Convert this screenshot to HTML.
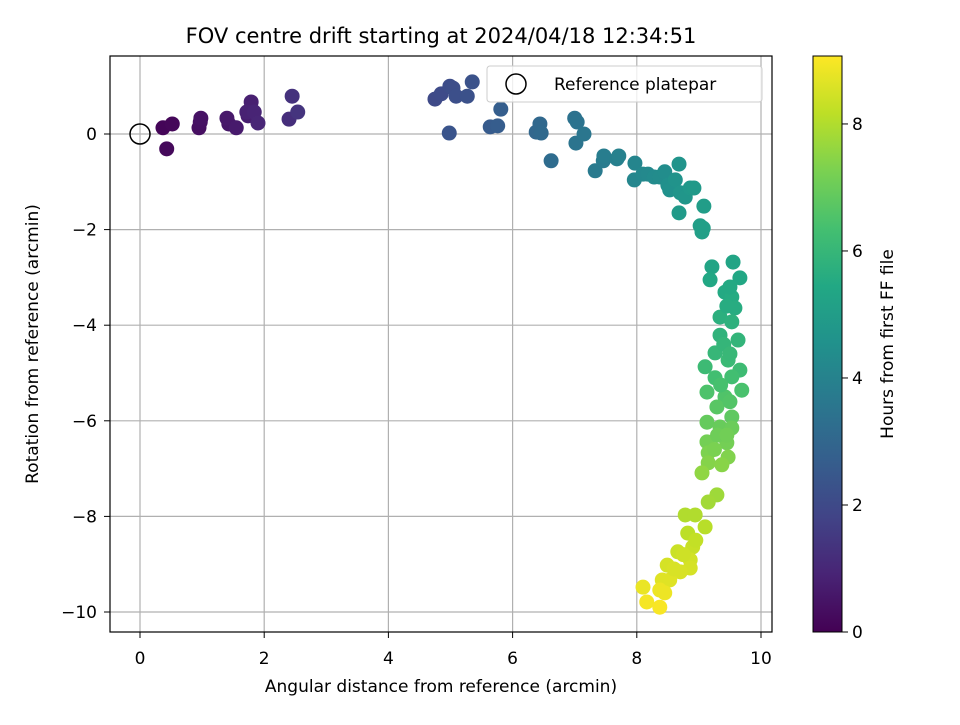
<!DOCTYPE html>
<html><head><meta charset="utf-8"><style>
body{margin:0;background:#fff;}
svg text{font-family:"DejaVu Sans","Liberation Sans",sans-serif;}
</style></head><body>
<svg id="chart" width="960" height="720" xmlns="http://www.w3.org/2000/svg">
<defs><linearGradient id="vir" x1="0" y1="1" x2="0" y2="0">
<stop offset="0" stop-color="#440154"/><stop offset="0.1" stop-color="#482475"/><stop offset="0.2" stop-color="#414487"/><stop offset="0.3" stop-color="#355f8d"/><stop offset="0.4" stop-color="#2a788e"/><stop offset="0.5" stop-color="#21918c"/><stop offset="0.6" stop-color="#22a884"/><stop offset="0.7" stop-color="#44bf70"/><stop offset="0.8" stop-color="#7ad151"/><stop offset="0.9" stop-color="#bddf26"/><stop offset="1" stop-color="#fde725"/>
</linearGradient></defs>
<text x="441" y="43" font-size="21" text-anchor="middle">FOV centre drift starting at 2024/04/18 12:34:51</text>
<g id="grid"></g><g id="points"></g>
<rect x="110" y="56" width="662" height="576" fill="none" stroke="#000" stroke-width="1.2"/>
<g id="ticks"></g>
<text x="441" y="692" font-size="17" text-anchor="middle">Angular distance from reference (arcmin)</text>
<text transform="translate(38,344) rotate(-90)" font-size="17" text-anchor="middle">Rotation from reference (arcmin)</text>
<g>
<rect x="487" y="66" width="275" height="36" rx="3" fill="#fff" fill-opacity="0.8" stroke="#ccc"/>
<circle cx="516" cy="84" r="10" fill="none" stroke="#000" stroke-width="1.5"/>
<text x="554" y="90" font-size="17">Reference platepar</text>
</g>
<rect x="813" y="56" width="29" height="576" fill="url(#vir)" stroke="#000" stroke-width="1"/>
<g id="cticks"></g>
<text transform="translate(893,344) rotate(-90)" font-size="17" text-anchor="middle">Hours from first FF file</text>
</svg>
<script>
const xVals=[0.37,0.52,0.43,0.95,0.97,0.98,1.43,1.40,1.55,1.74,1.79,1.72,1.84,1.90,2.45,2.40,2.54,
4.75,4.85,4.99,5.04,5.09,5.27,5.35,4.98,5.64,5.76,5.81,6.38,6.44,6.46,6.62,7.00,7.04,7.02,7.15,7.33,7.46,7.47,7.68,7.71,7.97,7.96,8.10,8.18,8.28,8.37,8.45,8.50,8.53,8.62,8.68,8.70,8.78,8.86,8.92,8.68,9.08,9.02,9.05,9.07,
9.21,9.55,9.66,9.18,9.42,9.53,9.58,9.34,9.53,9.34,9.63,9.26,9.47,9.10,9.66,9.26,9.53,9.69,9.13,9.42,9.29,9.53,9.13,9.34,9.53,9.13,9.45,9.15,9.47,9.15,9.37,9.05,9.29,9.15,8.78,8.94,9.10,8.82,8.90,8.66,8.86,8.49,8.86,8.70,8.41,8.53,8.10,8.37,8.16,8.37,
9.50,9.45,9.40,9.50,9.35,9.50,9.30,9.45,9.25,8.95,8.75,8.60,8.45];
const yVals=[0.13,0.21,-0.31,0.13,0.25,0.33,0.21,0.33,0.13,0.38,0.67,0.46,0.46,0.23,0.79,0.31,0.46,
0.73,0.84,1.00,0.96,0.79,0.79,1.09,0.02,0.15,0.17,0.52,0.04,0.21,0.02,-0.56,0.33,0.25,-0.19,0.00,-0.77,-0.56,-0.46,-0.52,-0.46,-0.61,-0.96,-0.84,-0.84,-0.90,-0.90,-0.79,-1.07,-1.17,-0.96,-0.63,-1.23,-1.32,-1.13,-1.13,-1.65,-1.51,-1.92,-2.05,-1.97,
-2.78,-2.68,-3.01,-3.05,-3.31,-3.41,-3.64,-3.83,-3.93,-4.21,-4.31,-4.58,-4.73,-4.87,-4.94,-5.10,-5.08,-5.36,-5.40,-5.50,-5.71,-5.92,-6.03,-6.13,-6.15,-6.44,-6.46,-6.67,-6.76,-6.88,-6.92,-7.09,-7.55,-7.70,-7.97,-7.97,-8.22,-8.35,-8.64,-8.74,-8.91,-9.02,-9.08,-9.16,-9.33,-9.33,-9.48,-9.54,-9.79,-9.90,
-3.20,-3.60,-4.40,-4.60,-5.25,-5.60,-6.30,-6.30,-6.60,-8.50,-8.80,-9.10,-9.60];
const hours=[0.1,0.15,0.2,0.35,0.4,0.45,0.55,0.6,0.65,0.75,0.8,0.85,0.9,0.95,1.3,1.2,1.35,
2.0,2.05,2.1,2.15,2.2,2.25,2.3,2.35,2.6,2.65,2.7,3.0,3.05,3.1,3.2,3.4,3.45,3.5,3.55,3.7,3.75,3.8,3.9,3.95,4.1,4.15,4.2,4.25,4.3,4.35,4.4,4.5,4.55,4.6,4.65,4.7,4.75,4.8,4.85,4.9,5.0,5.05,5.1,5.1,
5.3,5.3,5.4,5.4,5.5,5.55,5.6,5.7,5.75,5.85,5.9,6.0,6.1,6.15,6.2,6.3,6.3,6.45,6.5,6.55,6.7,6.8,6.9,6.95,7.0,7.15,7.15,7.3,7.35,7.4,7.45,7.55,7.75,7.8,8.0,8.0,8.1,8.15,8.3,8.35,8.45,8.5,8.5,8.55,8.65,8.65,8.8,8.85,8.95,9.0,
5.5,5.6,5.95,6.05,6.4,6.6,7.05,7.1,7.25,8.25,8.4,8.55,8.85];
const xTicks=[0,2,4,6,8,10];
const yTicks=[0,-2,-4,-6,-8,-10];
const cTicks=[0,2,4,6,8];
const hMax=9.07;
const NS="http://www.w3.org/2000/svg";
const sx=v=>140+v*62.1, sy=v=>134-v*47.8, sc=h=>632-h/hMax*576;
const vir=["#440154","#482475","#414487","#355f8d","#2a788e","#21918c","#22a884","#44bf70","#7ad151","#bddf26","#fde725"];
function cmap(t){t=Math.max(0,Math.min(1,t))*10;const i=Math.min(9,Math.floor(t)),f=t-i;
const a=vir[i],b=vir[i+1];const p=(c,k)=>parseInt(c.substr(1+2*k,2),16);
return "rgb("+[0,1,2].map(k=>Math.round(p(a,k)+(p(b,k)-p(a,k))*f)).join(",")+")";}
function mk(tag,attrs,parent){const e=document.createElementNS(NS,tag);for(const k in attrs)e.setAttribute(k,attrs[k]);parent.appendChild(e);return e;}
const grid=document.getElementById('grid'),ticks=document.getElementById('ticks'),pts=document.getElementById('points'),ct=document.getElementById('cticks');
xTicks.forEach(v=>{const x=sx(v);
const g=mk('line',{x1:x,x2:x,y1:56,y2:632,stroke:'#b0b0b0','stroke-width':1.2},grid);


const t=mk('line',{x1:x,x2:x,y1:632,y2:638,stroke:'#000'},ticks);


const l=mk('text',{x:x,y:664,'font-size':17,'text-anchor':'middle'},ticks);l.textContent=v;

});
yTicks.forEach(v=>{const y=sy(v);
const g=mk('line',{x1:110,x2:772,y1:y,y2:y,stroke:'#b0b0b0','stroke-width':1.2},grid);


const t=mk('line',{x1:104,x2:110,y1:y,y2:y,stroke:'#000'},ticks);


const l=mk('text',{x:97,y:y+6,'font-size':17,'text-anchor':'end'},ticks);l.textContent=v<0?'\u2212'+Math.abs(v):v;

});
const ref=mk('circle',{cx:sx(0),cy:sy(0),r:10,fill:'none',stroke:'#000','stroke-width':1.5},pts);


xVals.forEach((xv,i)=>{const c=mk('circle',{cx:sx(xv),cy:sy(yVals[i]),r:7.5,fill:cmap(hours[i]/hMax)},pts);

});
cTicks.forEach(v=>{const y=sc(v);
const t=mk('line',{x1:842,x2:848,y1:y,y2:y,stroke:'#000'},ct);


const l=mk('text',{x:852,y:y+6,'font-size':17},ct);l.textContent=v;

});
</script>
</body></html>
